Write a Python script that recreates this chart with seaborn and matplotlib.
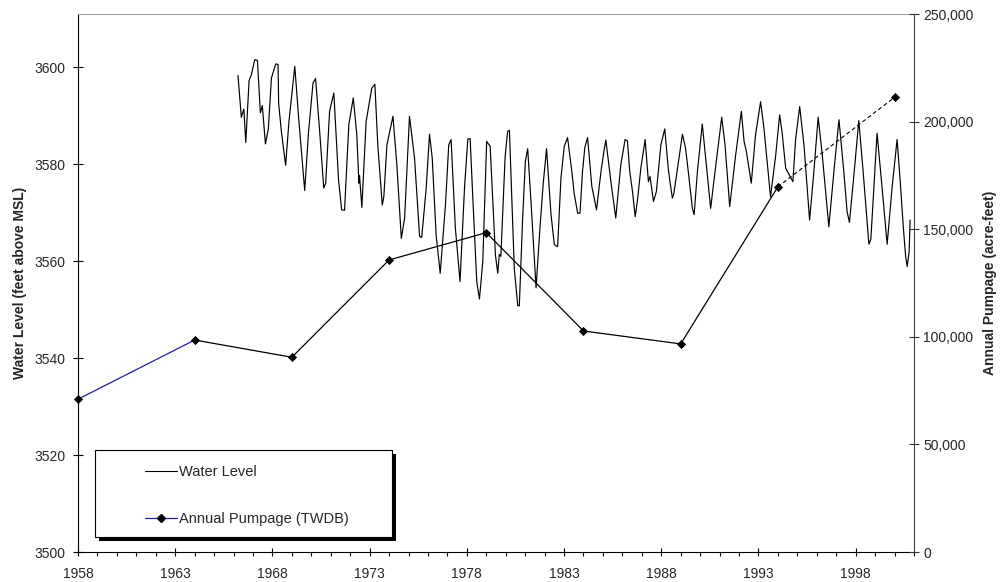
import matplotlib
matplotlib.use("Agg")
import matplotlib.pyplot as plt
import matplotlib.transforms as mtransforms
from matplotlib.lines import Line2D
from matplotlib.patches import Rectangle
from matplotlib.ticker import FuncFormatter, MultipleLocator, FixedLocator
import seaborn as sns

# ---------------- data ----------------
wl_year = [
    1966.23, 1966.40, 1966.53, 1966.63, 1966.80, 1966.92, 1967.09, 1967.23, 1967.38, 1967.48,
    1967.64, 1967.79, 1967.95, 1968.17, 1968.29, 1968.32, 1968.46, 1968.68, 1968.85, 1969.15,
    1969.35, 1969.66, 1969.86, 1970.09, 1970.22, 1970.43, 1970.64, 1970.74, 1970.94, 1971.16,
    1971.40, 1971.56, 1971.71, 1971.93, 1972.16, 1972.34, 1972.45, 1972.48, 1972.60, 1972.82,
    1973.11, 1973.27, 1973.42, 1973.65, 1973.73, 1973.89, 1974.20, 1974.40, 1974.63, 1974.80,
    1975.05, 1975.31, 1975.57, 1975.68, 1975.91, 1976.08, 1976.22, 1976.42, 1976.63, 1976.90,
    1977.07, 1977.19, 1977.41, 1977.65, 1977.88, 1978.05, 1978.17, 1978.30, 1978.51, 1978.65,
    1978.82, 1979.02, 1979.20, 1979.47, 1979.59, 1979.67, 1979.75, 1979.97, 1980.10, 1980.19,
    1980.44, 1980.62, 1980.70, 1980.87, 1981.01, 1981.13, 1981.30, 1981.56, 1981.76, 1981.93,
    1982.10, 1982.33, 1982.50, 1982.67, 1982.84, 1983.01, 1983.18, 1983.40, 1983.52, 1983.70,
    1983.82, 1983.95, 1984.07, 1984.21, 1984.43, 1984.67, 1984.90, 1985.07, 1985.15, 1985.41,
    1985.66, 1985.92, 1986.14, 1986.26, 1986.38, 1986.52, 1986.66, 1986.78, 1986.95, 1987.17,
    1987.34, 1987.42, 1987.60, 1987.75, 1987.98, 1988.18, 1988.37, 1988.57, 1988.65, 1989.09,
    1989.25, 1989.43, 1989.60, 1989.69, 1989.86, 1990.11, 1990.37, 1990.54, 1990.83, 1991.11,
    1991.28, 1991.52, 1991.83, 1992.12, 1992.26, 1992.38, 1992.63, 1992.85, 1993.11, 1993.28,
    1993.62, 1993.88, 1994.09, 1994.22, 1994.40, 1994.77, 1994.91, 1995.12, 1995.34, 1995.63,
    1995.85, 1996.07, 1996.28, 1996.62, 1996.88, 1997.14, 1997.39, 1997.56, 1997.68, 1997.91,
    1998.16, 1998.37, 1998.68, 1998.78, 1999.10, 1999.36, 1999.62, 1999.87, 2000.13, 2000.30,
    2000.45, 2000.57, 2000.65, 2000.75, 2000.80,
]
wl_level = [
    3598.3, 3589.7, 3591.4, 3584.5, 3597.3, 3598.5, 3601.6, 3601.4, 3590.6, 3592.1,
    3584.2, 3587.3, 3597.8, 3600.7, 3600.6, 3592.6, 3586.8, 3579.8, 3588.8, 3600.2,
    3589.5, 3574.6, 3586.8, 3596.8, 3597.7, 3586.8, 3575.1, 3576.1, 3590.9, 3594.7,
    3576.8, 3570.6, 3570.5, 3588.2, 3593.7, 3586.1, 3576.1, 3577.7, 3571.1, 3588.8,
    3595.7, 3596.5, 3584.0, 3571.6, 3573.3, 3584.0, 3589.9, 3579.9, 3564.7, 3568.9,
    3589.9, 3581.3, 3565.1, 3564.9, 3575.1, 3586.2, 3581.3, 3565.4, 3557.5, 3571.6,
    3584.0, 3585.1, 3566.8, 3555.8, 3575.1, 3585.2, 3585.3, 3573.7, 3555.8, 3552.2,
    3559.9, 3584.7, 3583.7, 3561.3, 3557.5, 3561.4, 3561.0, 3581.6, 3586.8, 3587.0,
    3558.5, 3550.8, 3550.8, 3568.9, 3580.6, 3583.2, 3572.3, 3554.5, 3566.8, 3576.1,
    3583.2, 3569.6, 3563.4, 3563.0, 3577.1, 3583.7, 3585.5, 3578.5, 3574.0, 3569.9,
    3569.9, 3578.5, 3583.5, 3585.5, 3575.4, 3570.6, 3578.5, 3583.2, 3585.0, 3576.4,
    3568.9, 3579.9, 3585.1, 3584.8, 3578.5, 3574.4, 3569.2, 3572.7, 3579.2, 3585.1,
    3576.4, 3577.5, 3572.3, 3574.4, 3584.0, 3587.3, 3578.7, 3573.0, 3574.0, 3586.2,
    3583.3, 3577.1, 3570.9, 3569.6, 3578.5, 3588.3, 3577.8, 3570.9, 3580.6, 3589.7,
    3584.0, 3571.3, 3582.0, 3590.9, 3584.7, 3582.6, 3576.1, 3586.1, 3592.9, 3587.5,
    3573.3, 3581.6, 3590.2, 3586.4, 3579.2, 3576.4, 3585.1, 3591.9, 3584.0, 3568.5,
    3578.5, 3589.7, 3582.0, 3567.1, 3578.5, 3589.2, 3578.5, 3570.2, 3568.0, 3577.8,
    3589.0, 3579.2, 3563.5, 3564.5, 3586.4, 3575.1, 3563.5, 3575.1, 3585.1, 3576.0,
    3567.0, 3561.0, 3558.9, 3562.0, 3568.5,
]

pump_year = [1958, 1964, 1969, 1974, 1979, 1984, 1989, 1994, 2000]
pump_value = [71000, 98500, 90500, 135700, 148400, 102700, 96700, 169700, 211300]

x_ticks = [1958, 1963, 1968, 1973, 1978, 1983, 1988, 1993, 1998]
left_ticks = [3500, 3520, 3540, 3560, 3580, 3600]
right_ticks = [0, 50000, 100000, 150000, 200000, 250000]

legend_labels = ["Water Level", "Annual Pumpage (TWDB)"]
left_label = "Water Level (feet above MSL)"
right_label = "Annual Pumpage (acre-feet)"

# ---------------- style ----------------
sns.set_style("ticks")
plt.rcParams["font.family"] = ["Liberation Sans", "DejaVu Sans"]

BLUE = "#1f1f9e"

fig = plt.figure(figsize=(10, 5.82), dpi=100)
L, R, T, B = 78, 914, 14, 552
W, H = 1000, 582
ax = fig.add_axes([L / W, 1 - B / H, (R - L) / W, (B - T) / H])
ax2 = ax.twinx()

# water level
sns.lineplot(x=wl_year, y=wl_level, ax=ax, color="black", linewidth=0.85,
             estimator=None, sort=False)

# pumpage segments
sns.lineplot(x=pump_year[:2], y=pump_value[:2], ax=ax2, color=BLUE, linewidth=0.9,
             estimator=None, sort=False)
sns.lineplot(x=pump_year[1:8], y=pump_value[1:8], ax=ax2, color="black", linewidth=0.9,
             estimator=None, sort=False)
sns.lineplot(x=pump_year[7:], y=pump_value[7:], ax=ax2, color="black", linewidth=0.8,
             linestyle=(0, (3.5, 2.5)), estimator=None, sort=False)
sns.scatterplot(x=pump_year, y=pump_value, ax=ax2, marker="D", color="black",
                s=22, linewidth=0, zorder=5, clip_on=False)

# axes limits & ticks
ax.set_xlim(1958, 2001)
ax.set_ylim(3500, 3611)
ax2.set_ylim(0, 250000)

ax.xaxis.set_major_locator(FixedLocator(x_ticks))
ax.xaxis.set_minor_locator(MultipleLocator(1))
ax.set_xticklabels([str(t) for t in x_ticks])
ax.set_yticks(left_ticks)
ax.set_yticklabels([str(t) for t in left_ticks])
ax2.set_yticks(right_ticks)
ax2.yaxis.set_major_formatter(FuncFormatter(lambda v, p: f"{int(v):,}"))

ax.tick_params(axis="x", which="major", direction="inout", length=5.5, width=0.8,
               labelsize=10, pad=8, color="black")
ax.tick_params(axis="x", which="minor", direction="out", length=3, width=0.8, color="black")
ax.tick_params(axis="y", which="major", direction="inout", length=7, width=0.8,
               labelsize=10, pad=5.8, right=False, color="black")
ax2.tick_params(axis="y", which="major", direction="inout", length=7, width=0.8,
                labelsize=10, pad=3, color="#333333")

for a in (ax, ax2):
    for s in a.spines.values():
        s.set_linewidth(0.8)
ax.spines["left"].set_color("black")
ax.spines["bottom"].set_color("black")
ax.spines["top"].set_color("#a0a0a0")
ax2.spines["top"].set_visible(False)
ax2.spines["left"].set_visible(False)
ax2.spines["bottom"].set_visible(False)
ax.spines["right"].set_visible(False)
ax2.spines["right"].set_color("#404040")

ax.set_ylabel(left_label, fontsize=10, fontweight="bold")
ax2.set_ylabel(right_label, fontsize=10, fontweight="bold")
ax.yaxis.set_label_coords((27 - L) / (R - L), 0.5)
ax2.yaxis.set_label_coords((983 - L) / (R - L), 0.5)
ax.set_xlabel("")

# legend box with shadow
bx0, bx1, by0, by1 = 95, 392, 450, 537
rx = (bx0 - L) / (R - L)
ry = (B - by1) / (B - T)
rw = (bx1 - bx0) / (R - L)
rh = (by1 - by0) / (B - T)
shadow_tr = mtransforms.offset_copy(ax2.transAxes, fig=fig, x=4, y=-4, units="dots")
ax2.add_patch(Rectangle((rx, ry), rw, rh, transform=shadow_tr, facecolor="black",
                        edgecolor="black", linewidth=0, zorder=10, clip_on=False))
ax2.add_patch(Rectangle((rx, ry), rw, rh, transform=ax2.transAxes, facecolor="white",
                        edgecolor="black", linewidth=0.8, zorder=11, clip_on=False))

handles = [
    Line2D([], [], color="black", linewidth=0.8),
    Line2D([], [], color=BLUE, linewidth=0.9, marker="D", markersize=4.5,
           markerfacecolor="black", markeredgecolor="black"),
]
leg = ax2.legend(handles, legend_labels, loc="upper left",
                 bbox_to_anchor=((145 - L) / (R - L), (B - 465) / (B - T)),
                 frameon=False, fontsize=10.5, borderpad=0, borderaxespad=0,
                 handlelength=2.2, handletextpad=0.1, labelspacing=2.25)
leg.set_zorder(12)

fig.savefig("out.png", dpi=100)
